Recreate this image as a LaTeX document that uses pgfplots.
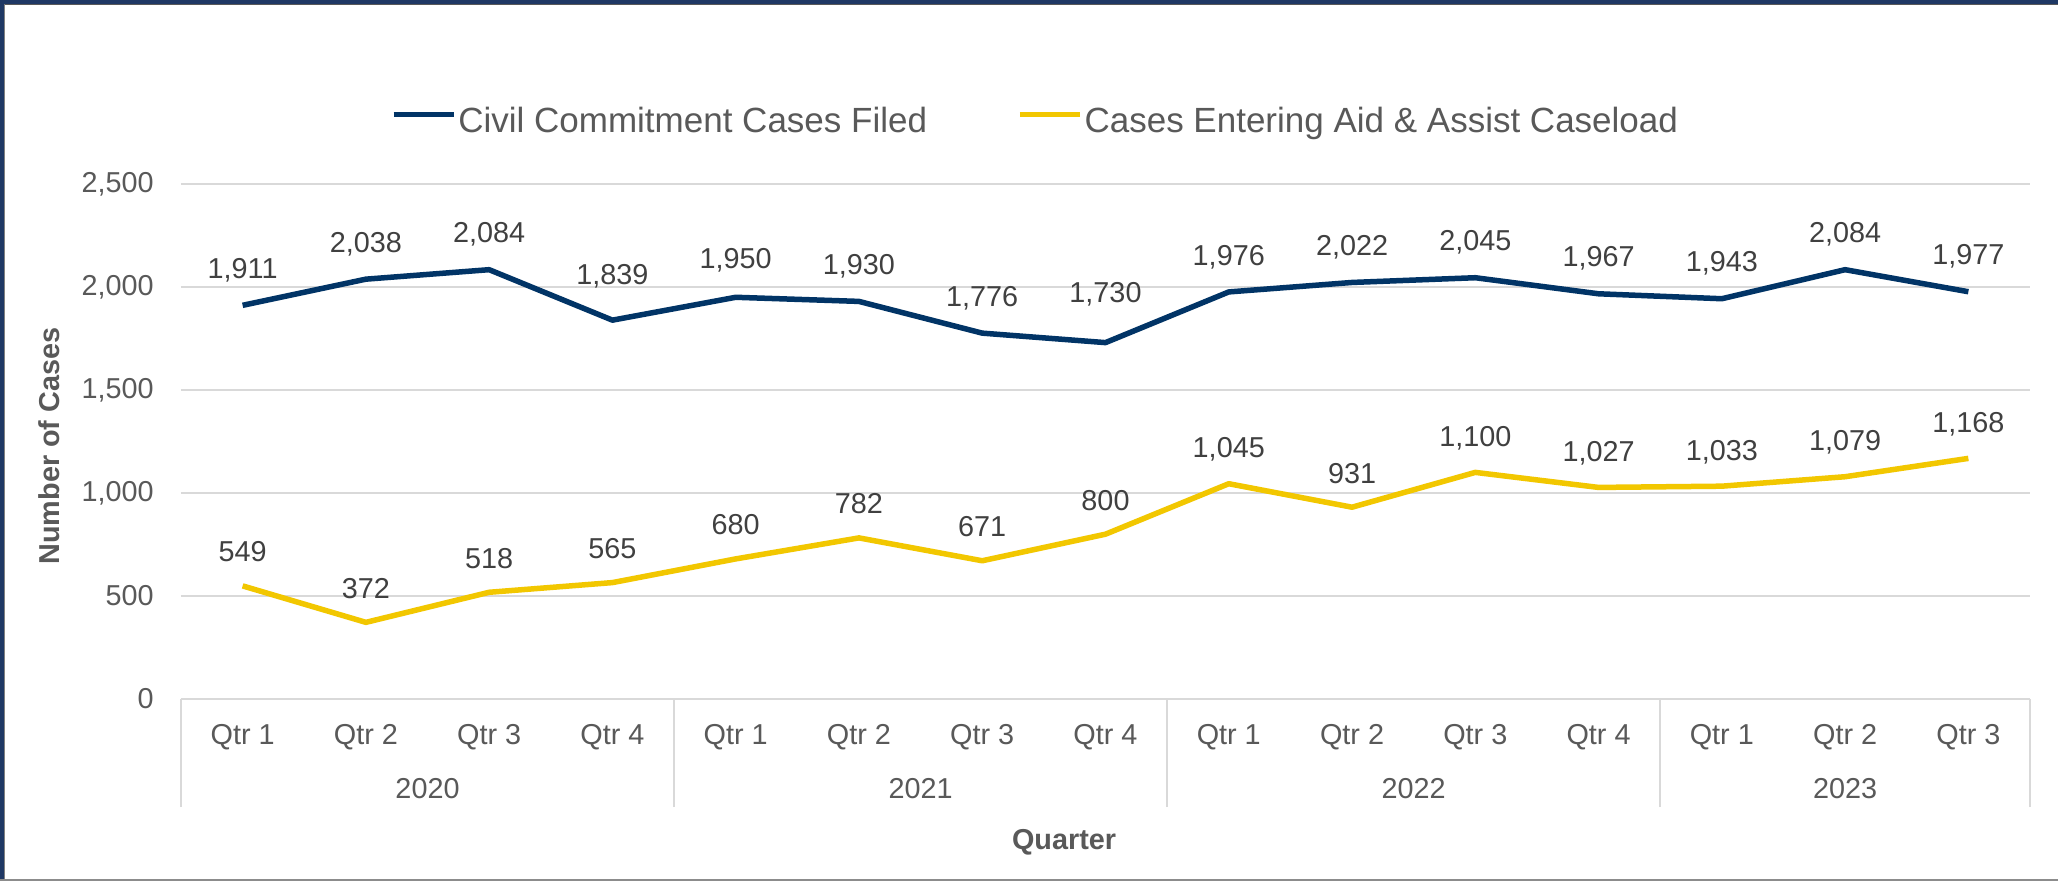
\documentclass[border=0pt]{standalone}
\usepackage{fontspec}
\setmainfont{Liberation Sans}
\usepackage{pgfplots}
\usepackage{pgfplotstable}
\pgfplotsset{compat=1.18}
\definecolor{navy}{HTML}{013466}
\definecolor{gold}{HTML}{F2C700}
\definecolor{framec}{HTML}{1F3864}
\definecolor{gridc}{HTML}{D9D9D9}
\definecolor{txt}{HTML}{595959}
\definecolor{lbl}{HTML}{404040}

\pgfplotstableread{
x y off
0 1911 17.5
1 2038 17.5
2 2084 17.5
3 1839 22
4 1950 18.5
5 1930 17.5
6 1776 17.5
7 1730 24
8 1976 17.5
9 2022 17.5
10 2045 17.5
11 1967 17.5
12 1943 17.5
13 2084 17.5
14 1977 17.5
}\civil

\pgfplotstableread{
x y off
0 549 17
1 372 17
2 518 17
3 565 17
4 680 17
5 782 17
6 671 17
7 800 17
8 1045 17
9 931 17
10 1100 17
11 1027 17
12 1033 17
13 1079 17
14 1168 17
}\aid

\newcommand\fs{\fontsize{14.4}{17}\selectfont}

\begin{document}
\begin{tikzpicture}
\path[use as bounding box] (-90.5pt,-91pt) rectangle (938.5pt,349.5pt);
\fill[white] (-90.5pt,-91pt) rectangle (938.5pt,349.5pt);
\begin{axis}[
  at={(0pt,0pt)}, anchor=south west,
  scale only axis, width=924.5pt, height=257.5pt,
  xmin=-0.5, xmax=14.5, ymin=0, ymax=2500,
  clip=false,
  axis line style={draw=none},
  tick pos=left,
  major tick length=0pt,
  xtick={0,...,14},
  xticklabels={Qtr 1,Qtr 2,Qtr 3,Qtr 4,Qtr 1,Qtr 2,Qtr 3,Qtr 4,Qtr 1,Qtr 2,Qtr 3,Qtr 4,Qtr 1,Qtr 2,Qtr 3},
  ytick={0,500,...,2500},
  ymajorgrids,
  grid style={gridc, line width=1pt},
  extra x ticks={-0.5,3.5,7.5,11.5,14.5},
  extra x tick labels={},
  extra x tick style={major tick length=54pt, tick align=outside, xmajorgrids=false, major tick style={gridc, line width=1pt}},
  /pgf/number format/assume math mode=true,
  /pgf/number format/1000 sep={,},
  yticklabel style={font=\fs, color=txt, anchor=east, inner sep=0pt, xshift=-13.5pt},
  xticklabel style={font=\fs, color=txt, anchor=base, inner sep=0pt, yshift=-23pt},
  xlabel={Quarter},
  xlabel style={at={(axis description cs:0.4776,-0.2932)}, anchor=base, font=\fs\bfseries, color=txt, inner sep=0pt},
  ylabel={Number of Cases},
  ylabel style={at={(axis description cs:-0.0714,0.4913)}, anchor=center, font=\fs\bfseries, color=txt, inner sep=0pt},
  legend style={at={(axis description cs:0.4621,1.1223)}, anchor=center, draw=none, fill=none,
    font=\fontsize{17.5}{20}\selectfont, text=txt, legend columns=2, inner sep=0pt,
    nodes={inner sep=1pt},
    /tikz/every even column/.append style={column sep=44pt}},
  legend image code/.code={\draw[#1] (0pt,0.62ex) -- (30pt,0.62ex);},
]
\addplot[navy, line width=2.75pt, line join=round,
  nodes near coords, point meta=y,
  visualization depends on={\thisrow{off}\as\myoff},
  every node near coord/.append style={anchor=center, yshift=\myoff pt, font=\fs, color=lbl, inner sep=0pt}]
  table[x=x,y=y]{\civil};
\addlegendentry{Civil Commitment Cases Filed}
\addplot[gold, line width=2.75pt, line join=round,
  nodes near coords, point meta=y,
  visualization depends on={\thisrow{off}\as\myoff},
  every node near coord/.append style={anchor=center, yshift=\myoff pt, font=\fs, color=lbl, inner sep=0pt}]
  table[x=x,y=y]{\aid};
\addlegendentry{Cases Entering Aid \& Assist Caseload}
\node[font=\fs, color=txt, anchor=base, inner sep=0pt, yshift=-50pt] at (axis cs:1.5,0) {2020};
\node[font=\fs, color=txt, anchor=base, inner sep=0pt, yshift=-50pt] at (axis cs:5.5,0) {2021};
\node[font=\fs, color=txt, anchor=base, inner sep=0pt, yshift=-50pt] at (axis cs:9.5,0) {2022};
\node[font=\fs, color=txt, anchor=base, inner sep=0pt, yshift=-50pt] at (axis cs:13,0) {2023};
\end{axis}
\fill[framec] (-90.5pt,347.5pt) rectangle (938.5pt,349.5pt);
\fill[black!65] (-88.5pt,346.8pt) rectangle (938.5pt,347.5pt);
\fill[framec] (-90.5pt,-91pt) rectangle (-88.5pt,349.5pt);
\fill[black!50] (-88.5pt,-91pt) rectangle (-87.8pt,347.5pt);
\fill[black!45] (-90.5pt,-91pt) rectangle (938.5pt,-90pt);
\end{tikzpicture}
\end{document}
